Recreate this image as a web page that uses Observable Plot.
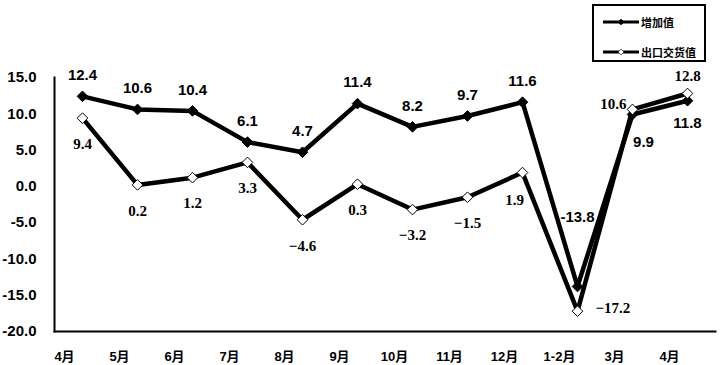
<!DOCTYPE html>
<html><head><meta charset="utf-8">
<script src="https://cdn.jsdelivr.net/npm/d3@7"></script>
<script src="https://cdn.jsdelivr.net/npm/@observablehq/plot@0.6"></script>
<style>
body{margin:0;background:#fff;}
#wrap{position:relative;width:724px;height:365px;}
#legend{position:absolute;left:592px;top:4px;width:114px;height:58px;border:2px solid #000;box-sizing:border-box;background:#fff;font-family:"Noto Sans CJK SC",sans-serif;font-size:11px;font-weight:bold;color:#000;}
#legend .row{position:absolute;left:9px;display:flex;align-items:center;height:12px;}
#legend .row span{margin-left:2px;line-height:12px;}
</style></head>
<body>
<div id="wrap"><div id="chart"></div><div id="legend"></div></div>
<script>
const months = ["4月","5月","6月","7月","8月","9月","10月","11月","12月","1-2月","3月","4月"];
const addedValue = [12.4, 10.6, 10.4, 6.1, 4.7, 11.4, 8.2, 9.7, 11.6, -13.8, 9.9, 11.8];
const exportValue = [9.4, 0.2, 1.2, 3.3, -4.6, 0.3, -3.2, -1.5, 1.9, -17.2, 10.6, 12.8];
const seriesNames = ["增加值", "出口交货值"];
const yTicks = [-20, -15, -10, -5, 0, 5, 10, 15];

const rows = months.map((m, i) => ({i, m, added: addedValue[i], exp: exportValue[i]}));
const fmtA = v => v.toFixed(1);
const fmtE = v => (v < 0 ? "−" : "") + Math.abs(v).toFixed(1);
const sel = idx => rows.filter(r => idx.includes(r.i));

const sans = "Liberation Sans, Arial, 'Noto Sans CJK SC', sans-serif";
const serif = "Liberation Serif, 'Times New Roman', serif";

const textA = (idx, dx, dy) => Plot.text(sel(idx), {x: "i", y: "added", text: d => fmtA(d.added), dx, dy,
  fontFamily: sans, fontWeight: "bold", fontSize: 15, fill: "black"});
const textE = (idx, dx, dy, anchor) => Plot.text(sel(idx), {x: "i", y: "exp", text: d => fmtE(d.exp), dx, dy,
  fontFamily: serif, fontWeight: "bold", fontSize: 15, fill: "black", textAnchor: anchor || "middle"});

const chart = Plot.plot({
  width: 724, height: 365,
  marginLeft: 54, marginRight: 9, marginTop: 77, marginBottom: 34,
  style: {fontFamily: sans, background: "#fff", color: "black"},
  x: {type: "point", domain: rows.map(r => r.i), padding: 0.5},
  y: {domain: [-20, 15]},
  marks: [
    Plot.axisY({ticks: yTicks, tickFormat: d => d.toFixed(1), tickSize: 0, tickPadding: 18,
      fontSize: 15, fontWeight: "bold", label: null}),
    Plot.axisX({tickFormat: i => months[i], tickSize: 0, tickPadding: 20, dx: -18,
      fontSize: 13, fontWeight: "bold", label: null}),
    Plot.frame({anchor: "left", stroke: "black", strokeWidth: 2}),
    Plot.frame({anchor: "bottom", stroke: "black", strokeWidth: 2}),
    Plot.line(rows, {x: "i", y: "added", stroke: "black", strokeWidth: 4.5}),
    Plot.dot(rows, {x: "i", y: "added", symbol: "diamond2", r: 4.8, fill: "black", stroke: "black", strokeWidth: 1}),
    Plot.line(rows, {x: "i", y: "exp", stroke: "black", strokeWidth: 4.5}),
    Plot.dot(rows, {x: "i", y: "exp", symbol: "diamond2", r: 4.8, fill: "white", stroke: "black", strokeWidth: 1}),
    textA([0,1,2,3,4,5,6,7,8], 0, -21),
    textA([9], 0, -69),
    textA([10], 11, 28),
    textA([11], 0, 22),
    textE([0,1,2,3,4,5,6,7], 0, 26),
    textE([8], -8, 28),
    textE([9], 18, -3, "start"),
    textE([10], -6, -5, "end"),
    textE([11], 0, -17)
  ]
});
document.getElementById("chart").appendChild(chart);

const legend = document.getElementById("legend");
seriesNames.forEach((name, k) => {
  const row = document.createElement("div");
  row.className = "row";
  row.style.top = (k === 0 ? 10 : 40) + "px";
  const fill = k === 0 ? "black" : "white";
  row.innerHTML = `<svg width="36" height="8"><line x1="0" y1="4" x2="36" y2="4" stroke="black" stroke-width="3"/><path d="M18,1 L21,4 L18,7 L15,4 Z" fill="${fill}" stroke="black" stroke-width="0.6"/></svg><span>${name}</span>`;
  legend.appendChild(row);
});
</script>
</body></html>
